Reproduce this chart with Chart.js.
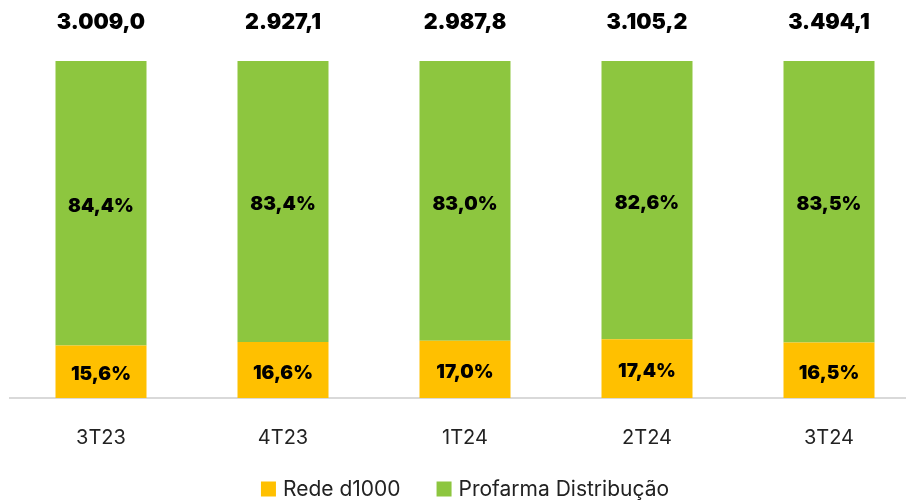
<!DOCTYPE html>
<html>
<head>
<meta charset="utf-8">
<script src="https://cdn.jsdelivr.net/npm/chart.js@4"></script>
<style>
  html, body { margin: 0; padding: 0; background: #fff; overflow: hidden; }
  #wrap { width: 920px; height: 500px; position: relative; }
</style>
</head>
<body>
<div id="wrap"><canvas id="chart"></canvas></div>
<script>
// quarters and shares (%), totals on top of each bar
const quarters = ["3T23", "4T23", "1T24", "2T24", "3T24"];
const redeShare = [15.6, 16.6, 17.0, 17.4, 16.5];
const profarmaShare = [84.4, 83.4, 83.0, 82.6, 83.5];
const totals = ["3.009,0", "2.927,1", "2.987,8", "3.105,2", "3.494,1"];

const fmtPct = (v) => v.toFixed(1).replace(".", ",") + "%";

// draws the % inside each segment and the total above each bar
const labelsPlugin = {
    id: "barLabels",
    afterDatasetsDraw(chart) {
        const ctx = chart.ctx;
        ctx.save();
        ctx.fillStyle = "#000";
        ctx.textAlign = "center";
        ctx.textBaseline = "middle";
        ctx.font = "900 19px Inter";
        chart.data.datasets.forEach((ds, i) => {
            const meta = chart.getDatasetMeta(i);
            meta.data.forEach((bar, j) => {
                const mid = (bar.y + bar.base) / 2 + 3;
                ctx.fillText(fmtPct(ds.data[j]), bar.x, mid);
            });
        });
        const top = chart.getDatasetMeta(1);
        ctx.font = "900 21.5px Inter";
        top.data.forEach((bar, j) => {
            ctx.fillText(totals[j], bar.x, 23);
        });
        ctx.restore();
    }
};

// legend drawn by hand so the spacing matches (box, gap, text, wide gap)
const legendPlugin = {
    id: "bottomLegend",
    afterDraw(chart) {
        const ctx = chart.ctx;
        const box = 15, gap = 7, itemGap = 36, y = 489;
        ctx.save();
        ctx.font = "21px Inter";
        ctx.textBaseline = "middle";
        ctx.textAlign = "left";
        const items = chart.data.datasets.map((ds) => ({
            text: ds.label,
            color: ds.backgroundColor,
            w: box + gap + ctx.measureText(ds.label).width,
        }));
        const total = items.reduce((s, it) => s + it.w, 0) + itemGap * (items.length - 1);
        const area = chart.chartArea;
        let x = (area.left + area.right) / 2 - total / 2;
        items.forEach((it) => {
            ctx.fillStyle = it.color;
            ctx.fillRect(x, y - box / 2, box, box);
            ctx.fillStyle = "#222";
            ctx.fillText(it.text, x + box + gap, y + 1);
            x += it.w + itemGap;
        });
        ctx.restore();
    }
};

new Chart(document.getElementById("chart"), {
    type: "bar",
    data: {
        labels: quarters,
        datasets: [
            {
                label: "Rede d1000",
                data: redeShare,
                backgroundColor: "#FFC000",
                barPercentage: 0.5,
                categoryPercentage: 1,
            },
            {
                label: "Profarma Distribução",
                data: profarmaShare,
                backgroundColor: "#8DC63F",
                barPercentage: 0.5,
                categoryPercentage: 1,
            },
        ],
    },
    options: {
        responsive: true,
        maintainAspectRatio: false,
        animation: false,
        layout: { padding: { top: 61, left: 10, right: 0, bottom: 30 } },
        plugins: {
            tooltip: { enabled: false },
            legend: { display: false },
        },
        scales: {
            x: {
                stacked: true,
                grid: { display: false },
                border: { display: true, color: "#d9d9d9", width: 2 },
                ticks: { color: "#222", padding: 20, font: { size: 20, family: "Inter" } },
            },
            y: {
                stacked: true,
                display: false,
                min: 0,
                max: 100,
            },
        },
    },
    plugins: [labelsPlugin, legendPlugin],
});
</script>
</body>
</html>
